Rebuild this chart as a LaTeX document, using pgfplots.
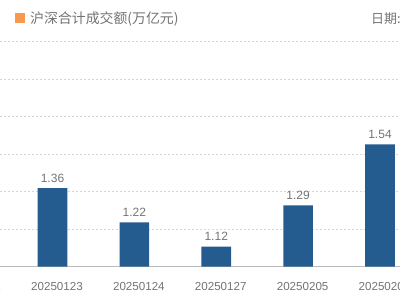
\documentclass[border=0pt]{standalone}
\usepackage{pgfplots}
\pgfplotsset{compat=1.18}
\usepackage{fontspec}
\setmainfont{Liberation Sans}
\newfontfamily\cjk{Noto Sans CJK SC}
\definecolor{barblue}{HTML}{255C8F}
\definecolor{legorange}{HTML}{F7994E}
\definecolor{txtgray}{HTML}{747474}
\definecolor{gridgray}{HTML}{D6D6D6}
\definecolor{basegray}{HTML}{BBBBBB}
\begin{document}
\begin{tikzpicture}
\useasboundingbox (0,0) rectangle (400pt,300pt);
\clip (0,0) rectangle (400pt,300pt);
\fill[white] (0,0) rectangle (400pt,300pt);
\begin{axis}[
  at={(-152.19pt,33.3pt)}, anchor=south west,
  x=81.875pt, y=243.8pt,
  xmin=-1.5, xmax=6.5, ymin=1.038, ymax=1.96089,
  enlargelimits=false,
  axis lines=left, axis line style={-},
  y axis line style={draw=none},
  x axis line style={draw=basegray, line width=1pt},
  ybar, bar width=29.6pt,
  xtick={0,...,5},
  xticklabels={20250122,20250123,20250124,20250127,20250205,20250206},
  xticklabel style={font=\fontsize{11.6}{12}\selectfont, text=txtgray, anchor=north, inner sep=0pt, yshift=-11pt, xshift=4.5pt},
  xtick style={draw=none},
  ytick={1.19182,1.34563,1.49945,1.65326,1.80708,1.96089},
  yticklabels={},
  ytick style={draw=none},
  ymajorgrids,
  major grid style={gridgray, dash pattern=on 2pt off 2pt, line width=0.7pt},
  nodes near coords,
  nodes near coords style={font=\fontsize{12}{12}\selectfont, text=txtgray, anchor=south, inner sep=0pt, yshift=5.6pt},
  /pgf/number format/.cd, fixed, fixed zerofill, precision=2, assume math mode=true,
]
\addplot[fill=barblue, draw=none] coordinates {(1,1.36) (2,1.22) (3,1.12) (4,1.29) (5,1.54)};
\end{axis}
\fill[legorange] (15pt,276.5pt) rectangle (25pt,286.5pt);
\node[anchor=west, inner sep=0pt, text=txtgray, font=\cjk\fontsize{13.9}{14}\selectfont] at (30pt,281.5pt) {沪深合计成交额(万亿元)};
\node[anchor=west, inner sep=0pt, text=txtgray, font=\cjk\fontsize{13}{14}\selectfont] at (371pt,281pt) {日期:};
\end{tikzpicture}
\end{document}
